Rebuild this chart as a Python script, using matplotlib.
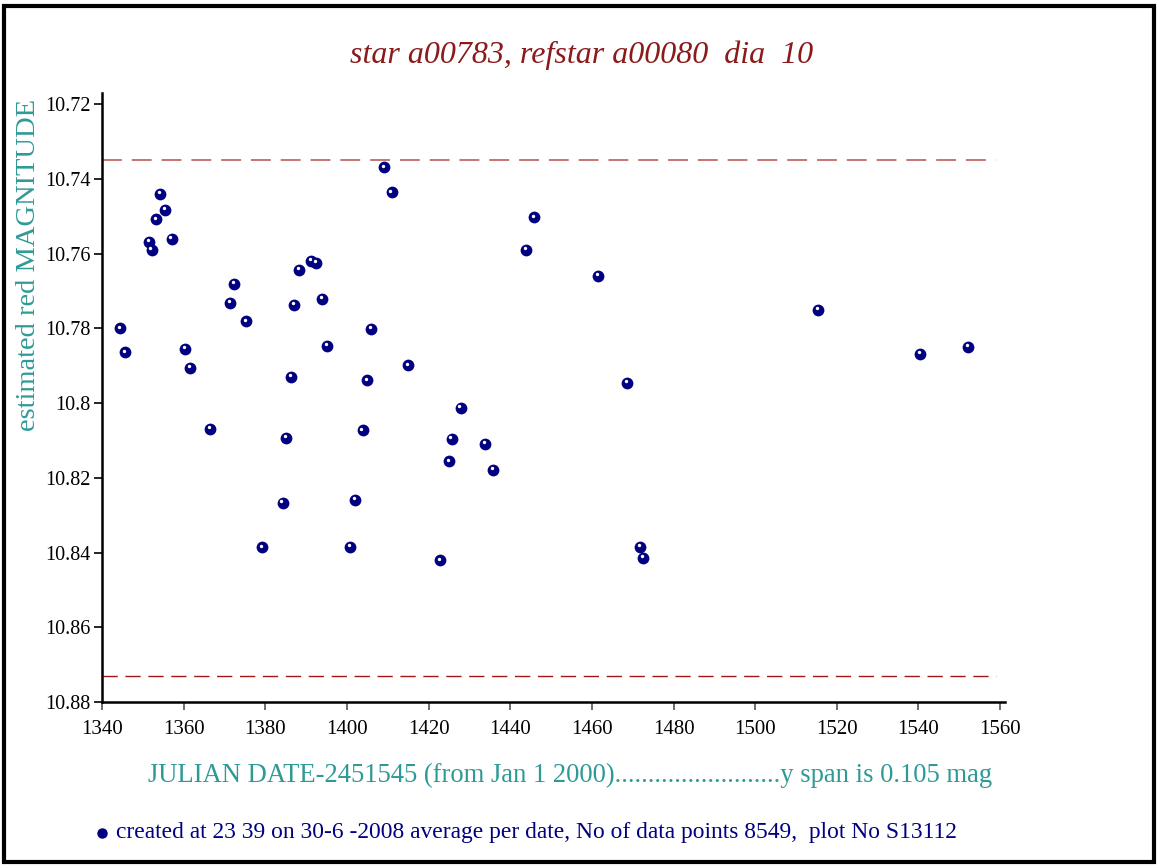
import matplotlib
matplotlib.use("Agg")
import matplotlib.pyplot as plt
import matplotlib.transforms as mtransforms
from matplotlib.patches import Rectangle

plt.rcParams['font.family'] = ['Liberation Serif', 'DejaVu Serif']

# Julian date - 2451545 and average red magnitude per date
jd = [1344.4, 1345.6, 1351.5, 1352.2, 1353.2, 1354.2, 1355.4, 1357.1, 1360.3, 1361.6,
      1366.5, 1371.4, 1372.3, 1375.3, 1379.2, 1384.3, 1385.1, 1386.3, 1387.1, 1388.3,
      1391.2, 1392.4, 1393.9, 1395.1, 1400.8, 1402.0, 1403.9, 1404.9, 1405.9, 1409.1,
      1411.0, 1415.0, 1422.8, 1425.0, 1425.7, 1427.9, 1433.8, 1435.8, 1443.9, 1445.8,
      1461.5, 1468.6, 1471.8, 1472.5, 1515.4, 1540.4, 1552.2]
mag = [10.7800, 10.7864, 10.7569, 10.7590, 10.7508, 10.7440, 10.7483, 10.7561, 10.7855, 10.7906,
       10.8068, 10.7731, 10.7680, 10.7781, 10.8386, 10.8267, 10.8093, 10.7929, 10.7738, 10.7644,
       10.7620, 10.7625, 10.7721, 10.7846, 10.8385, 10.8259, 10.8073, 10.7939, 10.7802, 10.7369,
       10.7436, 10.7899, 10.8421, 10.8156, 10.8096, 10.8013, 10.8110, 10.8179, 10.7590, 10.7503,
       10.7660, 10.7945, 10.8385, 10.8415, 10.7751, 10.7869, 10.7850]

upper_limit = 10.735
lower_limit = 10.873
limit_span = [1340, 1559]

xticks = list(range(1340, 1561, 20))
yticks = [10.72, 10.74, 10.76, 10.78, 10.80, 10.82, 10.84, 10.86, 10.88]
ytick_labels = ['10.72', '10.74', '10.76', '10.78', '10.8', '10.82', '10.84', '10.86', '10.88']

navy = '#000080'
teal = '#2e9a96'
title_red = '#8b1a1a'

fig = plt.figure(figsize=(11.57, 8.65), dpi=100)
ax = fig.add_axes([0.0882, 0.1884, 0.7804, 0.7040])

# limit lines
ax.plot(limit_span, [upper_limit, upper_limit], color='#c06a6a', lw=1.3, dashes=(11, 5.5))
ax.plot(limit_span, [lower_limit, lower_limit], color='#a01818', lw=1.0, dashes=(11, 5.5))

# points: navy ball with a small white highlight
ax.scatter(jd, mag, s=72, color=navy, zorder=3, linewidths=0)
shine = mtransforms.offset_copy(ax.transData, fig=fig, x=-1.0, y=1.3, units='points')
ax.scatter(jd, mag, s=6, color='white', zorder=4, linewidths=0, transform=shine)

ax.set_xlim(1340, 1561.2)
ax.set_ylim(10.88, 10.717)
ax.set_xticks(xticks)
ax.set_yticks(yticks)
ax.set_yticklabels(ytick_labels)

for side in ['top', 'right']:
    ax.spines[side].set_visible(False)
for side in ['left', 'bottom']:
    ax.spines[side].set_linewidth(1.8)
ax.tick_params(axis='both', direction='out', length=6, width=1.2, colors='black')
ax.tick_params(axis='y', labelsize=14.5, pad=2)
ax.tick_params(axis='x', labelsize=15, color='#555555', pad=7)

fig.text(0.503, 0.9364, 'star a00783, refstar a00080  dia  10', color=title_red,
         fontsize=23, style='italic', ha='center', va='center')
fig.text(0.0245, 0.694, 'estimated red MAGNITUDE', color=teal, fontsize=20.5,
         rotation=90, ha='center', va='center')
fig.text(0.4927, 0.104,
         'JULIAN DATE-2451545 (from Jan 1 2000).........................y span is 0.105 mag',
         color=teal, fontsize=19.2, ha='center', va='center')

# footer with marker
fig.lines.append(plt.Line2D([0.0882], [0.037], marker='o', ms=6.5, color=navy,
                            transform=fig.transFigure, linestyle='none'))
fig.text(0.100, 0.037,
         'created at 23 39 on 30-6 -2008 average per date, No of data points 8549,  plot No S13112',
         color=navy, fontsize=16.9, ha='left', va='center')

# outer frame
fig.patches.append(Rectangle((0.0035, 0.003), 0.9935, 0.9905, transform=fig.transFigure,
                             fill=False, edgecolor='black', linewidth=3))

fig.savefig('out.png', dpi=100)
